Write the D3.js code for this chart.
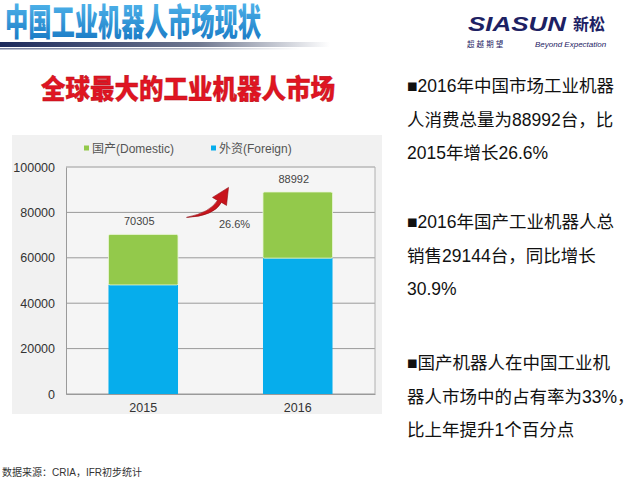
<!DOCTYPE html>
<html>
<head>
<meta charset="utf-8">
<script src="https://cdn.jsdelivr.net/npm/d3@7"></script>
<style>
  body { margin: 0; background: #fff; }
  svg { display: block; font-family: "Liberation Sans", "Noto Sans CJK SC", sans-serif; }
</style>
</head>
<body>
<div id="chart"></div>
<script>
// chart values
var years = ["2015", "2016"];
var foreign = [48041, 59848];
var domestic = [22264, 29144];
var growthLabel = "26.6%";
var yTicks = [0, 20000, 40000, 60000, 80000, 100000];
var legendNames = ["国产(Domestic)", "外资(Foreign)"];

var notes = [
  ["■2016年中国市场工业机器", "人消费总量为88992台，比", "2015年增长26.6%"],
  ["■2016年国产工业机器人总", "销售29144台，同比增长", "30.9%"],
  ["■国产机器人在中国工业机", "器人市场中的占有率为33%，", "比上年提升1个百分点"]
];

var svgWidth = 640, svgHeight = 481;
var margin = { top: 167, left: 66, right: 265, bottom: 87 };
var width = svgWidth - margin.left - margin.right;
var height = svgHeight - margin.top - margin.bottom;

var svg = d3.select("#chart").append("svg")
  .attr("width", svgWidth)
  .attr("height", svgHeight);

var defs = svg.append("defs");
var tg = defs.append("linearGradient").attr("id", "titleGrad")
  .attr("x1", 0).attr("y1", 0).attr("x2", 0).attr("y2", 1);
tg.append("stop").attr("offset", "0%").attr("stop-color", "#4fb3ea");
tg.append("stop").attr("offset", "100%").attr("stop-color", "#1576c2");
var sg = defs.append("linearGradient").attr("id", "stripeGrad");
sg.append("stop").attr("offset", "0%").attr("stop-color", "#1c2a5c");
sg.append("stop").attr("offset", "60%").attr("stop-color", "#6f7890");
sg.append("stop").attr("offset", "100%").attr("stop-color", "#ffffff");

// header
svg.append("text")
  .attr("x", 5).attr("y", 36)
  .attr("font-size", 37).attr("font-weight", 900)
  .attr("textLength", 256).attr("lengthAdjust", "spacingAndGlyphs")
  .attr("fill", "url(#titleGrad)")
  .text("中国工业机器人市场现状");
svg.append("rect").attr("x", 0).attr("y", 42).attr("width", 330).attr("height", 5)
  .attr("fill", "url(#stripeGrad)");
svg.append("rect").attr("x", 0).attr("y", 48).attr("width", 300).attr("height", 1.5)
  .attr("fill", "url(#stripeGrad)").attr("opacity", 0.6);

// logo
svg.append("text")
  .attr("x", 468).attr("y", 31)
  .attr("font-size", 21).attr("font-weight", "bold").attr("font-style", "italic")
  .attr("textLength", 98).attr("lengthAdjust", "spacingAndGlyphs")
  .attr("fill", "#1d2163")
  .text("SIASUN");
svg.append("text")
  .attr("x", 573).attr("y", 30)
  .attr("font-size", 16).attr("font-weight", "bold")
  .attr("fill", "#1d2163")
  .text("新松");
svg.append("text")
  .attr("x", 467).attr("y", 47)
  .attr("font-size", 7.5).attr("fill", "#1d2163")
  .text("超 越 期 望");
svg.append("text")
  .attr("x", 535).attr("y", 47)
  .attr("font-size", 8).attr("font-style", "italic").attr("fill", "#1d2163")
  .text("Beyond Expectation");

// red heading
svg.append("text")
  .attr("x", 41).attr("y", 99)
  .attr("font-size", 27).attr("font-weight", 900)
  .attr("textLength", 294).attr("lengthAdjust", "spacingAndGlyphs")
  .attr("fill", "#e01522")
  .attr("stroke", "#b50d18").attr("stroke-width", 0.4)
  .text("全球最大的工业机器人市场");

// chart panel
svg.append("rect")
  .attr("x", 12).attr("y", 135).attr("width", 370).attr("height", 279)
  .attr("fill", "#f1f1f1");

var chartGroup = svg.append("g")
  .attr("transform", `translate(${margin.left}, ${margin.top})`);

var xScale = d3.scaleBand().domain(years).range([0, width]).paddingInner(0.55).paddingOuter(0.275);
var yScale = d3.scaleLinear().domain([0, 100000]).range([height, 0]);

chartGroup.append("rect")
  .attr("width", width).attr("height", height)
  .attr("fill", "#f5f5f5");

// gridlines
chartGroup.selectAll(".grid")
  .data(yTicks)
  .enter()
  .append("line")
  .attr("x1", 0).attr("x2", width)
  .attr("y1", d => yScale(d)).attr("y2", d => yScale(d))
  .attr("stroke", "#9a9a9a").attr("stroke-width", 1);
chartGroup.append("line")
  .attr("x1", width).attr("x2", width).attr("y1", 0).attr("y2", height)
  .attr("stroke", "#b0b0b0");

var leftAxis = d3.axisLeft(yScale).tickValues(yTicks).tickFormat(d3.format("d"))
  .tickSize(0).tickPadding(11);
var ya = chartGroup.append("g").call(leftAxis);
ya.select(".domain").attr("stroke", "#9a9a9a");
ya.selectAll("text").attr("font-size", 12.5).attr("fill", "#333")
  .attr("font-family", "'Liberation Sans', sans-serif");

var bottomAxis = d3.axisBottom(xScale).tickSize(0).tickPadding(9);
var xa = chartGroup.append("g").attr("transform", `translate(0, ${height})`).call(bottomAxis);
xa.select(".domain").attr("stroke", "#9a9a9a");
xa.selectAll("text").attr("font-size", 12.5).attr("fill", "#333")
  .attr("font-family", "'Liberation Sans', sans-serif");

// stacked bars
chartGroup.selectAll(".foreign")
  .data(years)
  .enter()
  .append("rect")
  .attr("x", d => xScale(d))
  .attr("width", xScale.bandwidth())
  .attr("y", (d, i) => yScale(foreign[i]))
  .attr("height", (d, i) => height - yScale(foreign[i]))
  .attr("fill", "#06adec");

chartGroup.selectAll(".domestic")
  .data(years)
  .enter()
  .append("rect")
  .attr("x", d => xScale(d))
  .attr("width", xScale.bandwidth())
  .attr("y", (d, i) => yScale(foreign[i] + domestic[i]))
  .attr("height", (d, i) => yScale(foreign[i]) - yScale(foreign[i] + domestic[i]))
  .attr("rx", 1.5)
  .attr("fill", "#93c94b")
  .attr("stroke", "#eaf6d8").attr("stroke-width", 0.8);

// total labels
chartGroup.selectAll(".total")
  .data(years)
  .enter()
  .append("text")
  .attr("x", d => xScale(d) + xScale.bandwidth() / 2 - 4)
  .attr("y", (d, i) => yScale(foreign[i] + domestic[i]) - 9)
  .attr("text-anchor", "middle")
  .attr("font-size", 11).attr("fill", "#444")
  .text((d, i) => foreign[i] + domestic[i]);

// growth arrow + label
var midX = (xScale(years[0]) + xScale.bandwidth() + xScale(years[1])) / 2;
var baseY = yScale(foreign[0] + domestic[0]);
chartGroup.append("text")
  .attr("x", midX + 14).attr("y", baseY - 6)
  .attr("text-anchor", "middle")
  .attr("font-size", 11).attr("fill", "#444")
  .text(growthLabel);
var ax = midX - 34, ay = baseY - 17;
chartGroup.append("path")
  .attr("d", `M${ax},${ay} Q${ax + 24},${ay - 5} ${ax + 31},${ay - 17} L${ax + 26},${ay - 20} L${ax + 42},${ay - 30} L${ax + 40},${ay - 12} L${ax + 35},${ay - 15} Q${ax + 27},${ay - 1} ${ax},${ay} Z`)
  .attr("fill", "#c8141c")
  .attr("stroke", "#8e0e14").attr("stroke-width", 0.6);

// legend
var legendColors = ["#93c94b", "#06adec"];
var legendX = [84, 211];
legendNames.forEach(function(name, i) {
  svg.append("rect")
    .attr("x", legendX[i]).attr("y", 145.5).attr("width", 5).attr("height", 5)
    .attr("fill", legendColors[i]);
  svg.append("text")
    .attr("x", legendX[i] + 8).attr("y", 152.5)
    .attr("font-size", 12).attr("fill", "#555")
    .text(name);
});

// notes on the right
var noteY = [92, 228, 369];
notes.forEach(function(block, b) {
  block.forEach(function(line, j) {
    svg.append("text")
      .attr("x", 407).attr("y", noteY[b] + j * 33.5)
      .attr("font-size", 17.5).attr("fill", "#111")
      .text(line);
  });
});

// source
svg.append("text")
  .attr("x", 2).attr("y", 476)
  .attr("font-size", 10).attr("fill", "#333")
  .text("数据来源：CRIA，IFR初步统计");
</script>
</body>
</html>
